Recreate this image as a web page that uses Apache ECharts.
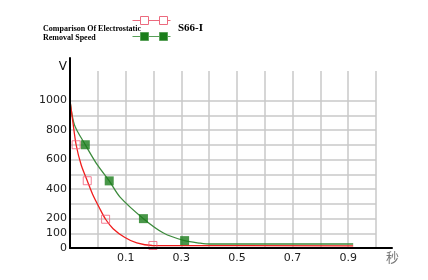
<!DOCTYPE html>
<html>
<head>
<meta charset="utf-8">
<script src="https://cdn.jsdelivr.net/npm/echarts@6/dist/echarts.min.js"></script>
<style>html,body{margin:0;padding:0;background:#fff;}#c{width:428px;height:280px;}</style>
</head>
<body>
<div id="c"></div>
<script>
// ---- data ----
var titleText = 'Comparison Of Electrostatic\nRemoval Speed';
var seriesNames = ['Comparison', 'S66-I'];
var xTickLabels = ['0.1', '0.3', '0.5', '0.7', '0.9'];
var yTickLabels = ['0', '100', '200', '400', '600', '800', '1000'];

var redCurveX = [-0.1, -0.09, -0.078, -0.06, -0.038, -0.018, 0.006, 0.028, 0.055, 0.096, 0.14, 0.196, 0.918];
var redCurveY = [1000, 858, 700, 564, 456, 361, 271, 195, 131, 73, 34, 17, 15];
var redMarkX  = [-0.078, -0.038, 0.028, 0.198];
var redMarkY  = [700, 456, 195, 17];

var greenCurveX = [-0.1, -0.084, -0.045, -0.006, 0.041, 0.08, 0.164, 0.236, 0.312, 0.368, 0.404, 0.918];
var greenCurveY = [1000, 835, 700, 576, 455, 345, 199, 102, 50, 33, 27, 27];
var greenMarkX  = [-0.045, 0.041, 0.164, 0.312];
var greenMarkY  = [700, 455, 199, 50];

function pairs(xs, ys) { return xs.map(function (x, i) { return [x, ys[i]]; }); }
function match(v, list) {
  for (var k = 0; k < list.length; k++) if (Math.abs(v - parseFloat(list[k])) < 1e-6) return list[k];
  return '';
}

var chart = echarts.init(document.getElementById('c'), null, { renderer: 'canvas' });
var grey = '#c9c9c9';
var legendPath = 'path://M0,4L8,4M16,4L27,4M35,4L38,4M8,0L16,0L16,8L8,8ZM27,0L35,0L35,8L27,8Z';
var hidden = { show: false };

chart.setOption({
  animation: false,
  backgroundColor: '#fff',
  title: [
    { text: titleText, left: 43, top: 24, padding: 0,
      textStyle: { fontFamily: 'Liberation Serif', fontSize: 8, fontWeight: 'bold', color: '#000', lineHeight: 9 } },
    { text: 'S66-I', left: 178, top: 23, padding: 0,
      textStyle: { fontFamily: 'Liberation Serif', fontSize: 11, fontWeight: 'bold', color: '#000' } }
  ],
  legend: {
    orient: 'vertical', left: 132, top: 16, padding: 0,
    itemWidth: 38, itemHeight: 8, itemGap: 7,
    formatter: function () { return ''; },
    data: [
      { name: seriesNames[0], icon: legendPath, itemStyle: { color: '#fff', borderColor: '#ec6a7e', borderWidth: 1 } },
      { name: seriesNames[1], icon: legendPath, itemStyle: { color: '#1b7d1b', borderColor: '#58a058', borderWidth: 1 } }
    ]
  },
  grid: [
    { left: 70, right: 52, top: 100.5, bottom: 32 },   // data grid, y 0..1000
    { left: 70, right: 52, top: 71, bottom: 32 },      // vertical grid lines up to 1200
    { left: 70, right: 36, top: 58, bottom: 32 }       // axis lines
  ],
  xAxis: [
    { type: 'value', gridIndex: 0, min: -0.1, max: 1.0, interval: 0.1,
      axisLine: hidden, axisTick: hidden, splitLine: hidden,
      axisLabel: { margin: 5, color: '#222', fontFamily: 'DejaVu Sans', fontSize: 11,
        formatter: function (v) { return match(v, xTickLabels); } } },
    { type: 'value', gridIndex: 1, min: -0.1, max: 1.0, interval: 0.1,
      axisLine: hidden, axisTick: hidden, axisLabel: hidden,
      splitLine: { show: true, lineStyle: { color: grey, width: 1.5 } } },
    { type: 'value', gridIndex: 2, min: 0, max: 1, z: 5,
      axisLine: { show: true, onZero: false, lineStyle: { color: '#000', width: 2 } },
      axisTick: hidden, axisLabel: hidden, splitLine: hidden,
      name: '秒', nameLocation: 'end', nameGap: -6,
      nameTextStyle: { color: '#777', fontSize: 13, fontFamily: 'Noto Sans CJK SC', verticalAlign: 'top', padding: [3, 0, 0, 0] } }
  ],
  yAxis: [
    { type: 'value', gridIndex: 0, min: 0, max: 1000, interval: 100,
      axisLine: hidden, axisTick: hidden,
      splitLine: { show: true, lineStyle: { color: grey, width: 1.5 } },
      axisLabel: { margin: 3, color: '#222', fontFamily: 'DejaVu Sans', fontSize: 11,
        formatter: function (v) { return match(v, yTickLabels); } } },
    { type: 'value', gridIndex: 1, min: 0, max: 1200, show: false },
    { type: 'value', gridIndex: 2, min: 0, max: 1, z: 5,
      axisLine: { show: true, onZero: false, lineStyle: { color: '#000', width: 2 } },
      axisTick: hidden, axisLabel: hidden, splitLine: hidden,
      name: 'V', nameLocation: 'end', nameGap: -15,
      nameTextStyle: { color: '#111', fontSize: 12, fontFamily: 'DejaVu Sans', align: 'right', padding: [0, 3, 0, 0] } }
  ],
  series: [
    { name: seriesNames[0], type: 'line', xAxisIndex: 0, yAxisIndex: 0, data: pairs(redCurveX, redCurveY),
      smooth: 0.3, showSymbol: false, z: 3,
      lineStyle: { color: '#f01e1e', width: 1.3 }, itemStyle: { color: '#f01e1e' } },
    { name: seriesNames[1], type: 'line', xAxisIndex: 0, yAxisIndex: 0, data: pairs(greenCurveX, greenCurveY),
      smooth: 0.3, showSymbol: false, z: 2,
      lineStyle: { color: '#3d8b3d', width: 1.3 }, itemStyle: { color: '#3d8b3d' } },
    { name: seriesNames[0], type: 'scatter', xAxisIndex: 0, yAxisIndex: 0, data: pairs(redMarkX, redMarkY),
      symbol: 'rect', symbolSize: 8, z: 4,
      itemStyle: { color: 'rgba(255,255,255,0)', borderColor: '#f0607a', borderWidth: 1 } },
    { name: seriesNames[1], type: 'scatter', xAxisIndex: 0, yAxisIndex: 0, data: pairs(greenMarkX, greenMarkY),
      symbol: 'rect', symbolSize: 9, z: 4,
      itemStyle: { color: '#1b7d1b' } }
  ]
});
</script>
</body>
</html>
